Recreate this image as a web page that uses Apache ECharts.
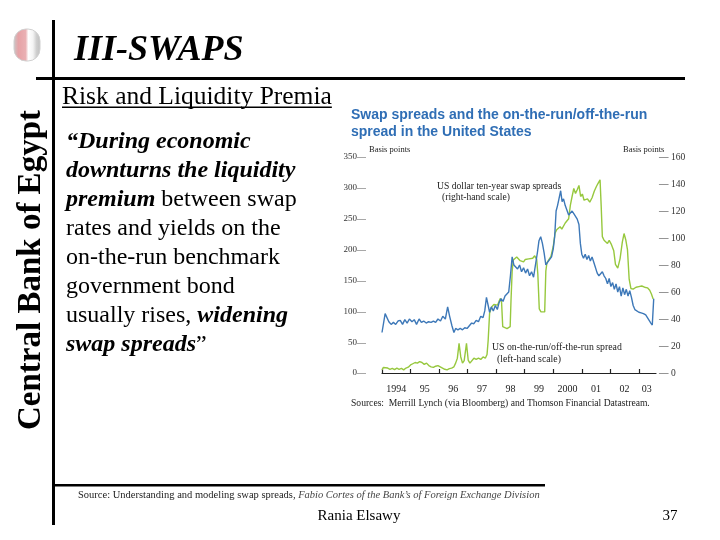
<!DOCTYPE html>
<html>
<head>
<meta charset="utf-8">
<script src="https://cdn.jsdelivr.net/npm/echarts@6/dist/echarts.min.js"></script>
<style>
html,body{margin:0;padding:0;background:#fff;}
#main{width:720px;height:540px;}
</style>
</head>
<body>
<div id="main"></div>
<script>
// ---------- DATA ----------
// US dollar ten-year swap spreads (right-hand scale, basis points)
const swapDates = [1994.00,1994.06,1994.11,1994.17,1994.24,1994.32,1994.40,1994.48,1994.56,1994.64,1994.72,1994.80,1994.88,1994.96,
1995.05,1995.13,1995.21,1995.30,1995.38,1995.46,1995.55,1995.63,1995.72,1995.80,1995.88,1995.96,
1996.05,1996.13,1996.22,1996.30,1996.37,1996.45,1996.52,1996.58,1996.66,1996.74,1996.82,1996.90,1996.98,
1997.06,1997.14,1997.22,1997.30,1997.38,1997.46,1997.54,1997.60,1997.66,1997.72,1997.77,1997.83,1997.90,1997.97,
1998.04,1998.10,1998.17,1998.24,1998.31,1998.38,1998.44,1998.50,1998.56,1998.62,1998.68,1998.75,1998.82,1998.89,1998.96,
1999.03,1999.10,1999.17,1999.24,1999.31,1999.38,1999.45,1999.50,1999.56,1999.62,1999.68,1999.74,1999.80,1999.87,1999.94,
2000.00,2000.05,2000.10,2000.15,2000.20,2000.26,2000.31,2000.36,2000.42,2000.48,2000.54,2000.60,2000.66,2000.72,2000.78,2000.84,2000.90,2000.95,
2001.00,2001.06,2001.12,2001.18,2001.24,2001.30,2001.36,2001.42,2001.48,2001.54,2001.60,2001.66,2001.72,2001.78,2001.84,2001.90,2001.96,
2002.02,2002.08,2002.14,2002.20,2002.26,2002.32,2002.38,2002.44,2002.50,2002.56,2002.62,2002.68,2002.74,2002.80,2002.86,2002.92,
2003.00,2003.08,2003.16,2003.24,2003.30,2003.36,2003.42,2003.47,2003.52];
const swapValues = [30,29,44,43,38,36,37.5,36,38.5,39,36,39.5,37,40,
38,39.5,36,40,37.5,38.5,37,38,37.5,38.5,37.5,40,
38.5,42,40,49,42,35,30,33,32,33,32,33.5,33,
35,37,36.5,39,38,42,41,46,56,50,45,49,46,50,
47,52,55,53,57,58,60,72,86,80,81,77,80,75,78,
74,77,72,75,71,72,90,98,101,96,89,80,82,81,86,
92,101,120,124,129,135,127,129,124,125,117,116,120,118,119,114,110,96,
88,85,88,84,87,83,86,82,81,74,72,71,75,72,70,66,70,
64,67,62,66,60,64,57,63,58,62,57,61,56,50,47,46,
45,44.5,44,43,41,39,37,35.5,55];

// US on-the-run/off-the-run spread (left-hand scale, basis points)
const otrDates = [1994.00,1994.05,1994.12,1994.20,1994.28,1994.36,1994.44,1994.52,1994.60,1994.68,1994.76,1994.84,1994.92,
1995.00,1995.08,1995.16,1995.24,1995.32,1995.40,1995.48,1995.56,1995.64,1995.72,1995.80,1995.88,1995.96,
1996.04,1996.12,1996.20,1996.28,1996.36,1996.44,1996.52,1996.58,1996.64,1996.70,1996.76,1996.82,1996.88,1996.96,
1997.02,1997.08,1997.14,1997.22,1997.30,1997.38,1997.46,1997.54,1997.62,1997.68,1997.72,1997.77,1997.84,1997.92,1997.98,
1998.05,1998.10,1998.15,1998.19,1998.23,1998.30,1998.38,1998.44,1998.49,1998.52,1998.56,1998.60,1998.66,1998.72,1998.78,1998.84,1998.90,1998.96,
1999.02,1999.08,1999.14,1999.20,1999.28,1999.35,1999.42,1999.46,1999.51,1999.57,1999.64,1999.70,1999.74,1999.78,1999.84,1999.92,
2000.00,2000.06,2000.12,2000.18,2000.24,2000.30,2000.36,2000.42,2000.48,2000.54,2000.60,2000.66,2000.72,2000.78,2000.84,2000.90,2000.96,
2001.02,2001.08,2001.14,2001.20,2001.28,2001.36,2001.44,2001.52,2001.58,2001.64,2001.68,2001.72,2001.78,2001.84,2001.90,2001.96,
2002.04,2002.12,2002.18,2002.26,2002.34,2002.42,2002.48,2002.54,2002.60,2002.66,2002.72,2002.80,2002.90,
2003.00,2003.10,2003.20,2003.30,2003.38,2003.44,2003.50];
const otrValues = [5,9,6.5,8,6,7.5,5.5,8,6,7.5,5,8,9.5,
13,15,17,16,18.5,17,14,16,12,10,9,11,12,
10,8,6,5,7,8,10,16,24,48,26,16,20,48,
21,16,18,24,22,24,22,26,24,30,53,97,107,111,113,
110,116,121,114,75,72,72,73,75,118,165,183,186,188,185,182,184,180,
184,187,185,188,186,190,184,160,104,99,98,99,165,179,181,189,
205,226,232,234,237,233,235,243,245,250,272,286,299,291,297,304,286,
290,280,278,282,277,284,295,303,308,313,270,221,215,218,210,215,
208,198,176,170,185,212,226,216,200,152,137,136,139,
140,141,139,138,134,128,120];

// Axis ticks and labels
const xTickYears = [1994,1995,1996,1997,1998,1999,2000,2001,2002,2003];
const xLabelPos = [1994.5,1995.5,1996.5,1997.5,1998.5,1999.5,2000.5,2001.5,2002.5,2003.28];
const xLabels = ['1994','95','96','97','98','99','2000','01','02','03'];
const leftAxisMax = 350, leftAxisStep = 50;
const rightAxisMax = 160, rightAxisStep = 20;

// Slide texts
const slideTitle = 'III-SWAPS';
const sideText = 'Central Bank of Egypt';
const subTitle = 'Risk and Liquidity Premia';
const chartTitle = ['Swap spreads and the on-the-run/off-the-run', 'spread in the United States'];
const swapName = ['US dollar ten-year swap spreads', '(right-hand scale)'];
const otrName = ['US on-the-run/off-the-run spread', '(left-hand scale)'];
const chartSource = 'Sources:  Merrill Lynch (via Bloomberg) and Thomson Financial Datastream.';
const author = 'Rania Elsawy';
const pageNo = '37';

// ---------- CHART ----------
const serif = '"Liberation Serif","Times New Roman",serif';
const sans = '"Liberation Sans",Arial,sans-serif';
const chart = echarts.init(document.getElementById('main'), null, {renderer: 'canvas'});

const subFont = '25.5px "Liberation Serif"';
const ctx = document.createElement('canvas').getContext('2d');
ctx.font = subFont;
const subW = ctx.measureText(subTitle).width;

const zip = (a, b) => a.map((t, i) => [t, b[i]]);

const para = '{bi|\u201CDuring economic}\n{bi|downturns the liquidity}\n{bi|premium}{n| between swap}\n{n|rates and yields on the}\n{n|on-the-run benchmark}\n{n|government bond}\n{n|usually rises, }{bi|widening}\n{bi|swap spreads}{n|\u201D}';

const option = {
  animation: false,
  backgroundColor: '#fff',
  grid: {left: 382, top: 157, width: 274, height: 216, containLabel: false},
  xAxis: [{
    type: 'value', min: 1994, max: 2003.6, offset: 7,
    axisLine: {show: true, lineStyle: {color: '#222', width: 1.2}},
    axisTick: {show: true, inside: true, length: 4, customValues: xTickYears, lineStyle: {color: '#222', width: 1.2}},
    axisLabel: {customValues: xLabelPos, margin: 4, fontFamily: serif, fontSize: 10, color: '#222',
      formatter: v => { const i = xLabelPos.findIndex(p => Math.abs(p - v) < 0.01); return i >= 0 ? xLabels[i] : ''; }},
    splitLine: {show: false}
  }],
  yAxis: [{
    type: 'value', min: 0, max: leftAxisMax, interval: leftAxisStep, position: 'left',
    axisLine: {show: false}, axisTick: {show: false}, splitLine: {show: false},
    axisLabel: {margin: 16, fontFamily: serif, fontSize: 9, color: '#333', formatter: v => v + '\u2014'}
  }, {
    type: 'value', min: 0, max: rightAxisMax, interval: rightAxisStep, position: 'right',
    axisLine: {show: false}, axisTick: {show: false}, splitLine: {show: false},
    axisLabel: {margin: 3, fontFamily: serif, fontSize: 9.5, color: '#333', formatter: v => '\u2014 ' + v}
  }],
  series: [{
    name: 'otr', type: 'line', yAxisIndex: 0, showSymbol: false, symbol: 'none',
    lineStyle: {color: '#97c83e', width: 1.4}, data: zip(otrDates, otrValues)
  }, {
    name: 'swap', type: 'line', yAxisIndex: 1, showSymbol: false, symbol: 'none',
    lineStyle: {color: '#3d78b8', width: 1.4}, data: zip(swapDates, swapValues)
  }],
  graphic: [
    // logo
    {type: 'rect', shape: {x: 14, y: 29, width: 26, height: 32, r: 12},
     style: {fill: {type: 'linear', x: 0, y: 0, x2: 1, y2: 0, colorStops: [
       {offset: 0, color: '#c9c9c9'}, {offset: 0.18, color: '#e6a2a6'}, {offset: 0.45, color: '#eab0b3'},
       {offset: 0.55, color: '#ffffff'}, {offset: 0.72, color: '#f4f4f4'}, {offset: 0.85, color: '#cfcfcf'}, {offset: 1, color: '#bdbdbd'}]},
       stroke: '#d0d0d0', lineWidth: 1}},
    // slide frame lines
    {type: 'rect', shape: {x: 52, y: 20, width: 3, height: 505}, style: {fill: '#000'}},
    {type: 'rect', shape: {x: 36, y: 77, width: 649, height: 3}, style: {fill: '#000'}},
    {type: 'rect', shape: {x: 53, y: 484, width: 492, height: 2.5}, style: {fill: '#000'}},
    // title
    {type: 'text', x: 74, y: 51, style: {text: slideTitle, font: 'italic bold 36px ' + serif, fill: '#000', textAlign: 'left', textVerticalAlign: 'middle'}},
    // vertical side text
    {type: 'text', x: 31, y: 270, rotation: Math.PI / 2,
     style: {text: sideText, font: 'bold 33px ' + serif, fill: '#000', textAlign: 'center', textVerticalAlign: 'middle'}},
    // subtitle with underline
    {type: 'text', x: 62, y: 97, style: {text: subTitle, font: '25.5px ' + serif, fill: '#000', textAlign: 'left', textVerticalAlign: 'middle'}},
    {type: 'rect', shape: {x: 62, y: 106.5, width: subW, height: 1.5}, style: {fill: '#000'}},
    // paragraph
    {type: 'text', x: 66, y: 127.6, style: {text: para, textAlign: 'left', textVerticalAlign: 'top',
      rich: {
        bi: {fontFamily: serif, fontSize: 24, fontWeight: 'bold', fontStyle: 'italic', lineHeight: 28.9, fill: '#000', color: '#000'},
        n: {fontFamily: serif, fontSize: 24, lineHeight: 28.9, fill: '#000', color: '#000'}
      }}},
    // chart title
    {type: 'text', x: 351, y: 115, style: {text: chartTitle[0], font: 'bold 14px ' + sans, fill: '#2f6eb5', textAlign: 'left', textVerticalAlign: 'middle'}},
    {type: 'text', x: 351, y: 132, style: {text: chartTitle[1], font: 'bold 14px ' + sans, fill: '#2f6eb5', textAlign: 'left', textVerticalAlign: 'middle'}},
    // basis points
    {type: 'text', x: 369, y: 150, style: {text: 'Basis points', font: '8.5px ' + serif, fill: '#222', textAlign: 'left', textVerticalAlign: 'middle'}},
    {type: 'text', x: 623, y: 150, style: {text: 'Basis points', font: '8.5px ' + serif, fill: '#222', textAlign: 'left', textVerticalAlign: 'middle'}},
    // annotations
    {type: 'text', x: 437, y: 186, style: {text: swapName[0], font: '9.6px ' + serif, fill: '#222', textAlign: 'left', textVerticalAlign: 'middle'}},
    {type: 'text', x: 442, y: 197, style: {text: swapName[1], font: '9.6px ' + serif, fill: '#222', textAlign: 'left', textVerticalAlign: 'middle'}},
    {type: 'text', x: 492, y: 347, style: {text: otrName[0], font: '9.8px ' + serif, fill: '#222', textAlign: 'left', textVerticalAlign: 'middle'}},
    {type: 'text', x: 497, y: 359, style: {text: otrName[1], font: '9.8px ' + serif, fill: '#222', textAlign: 'left', textVerticalAlign: 'middle'}},
    // chart source
    {type: 'text', x: 351, y: 403, style: {text: chartSource, font: '9.6px ' + serif, fill: '#222', textAlign: 'left', textVerticalAlign: 'middle'}},
    // footnote
    {type: 'text', x: 78, y: 495, style: {text: '{n|Source: Understanding and modeling swap spreads, }{i|Fabio Cortes of the Bank\u2019s of Foreign Exchange Division}',
      textAlign: 'left', textVerticalAlign: 'middle',
      rich: {n: {fontFamily: serif, fontSize: 10.5, fill: '#222', color: '#222'},
             i: {fontFamily: serif, fontSize: 10.5, fontStyle: 'italic', fill: '#444', color: '#444'}}}},
    {type: 'text', x: 359, y: 516, style: {text: author, font: '15px ' + serif, fill: '#000', textAlign: 'center', textVerticalAlign: 'middle'}},
    {type: 'text', x: 670, y: 516, style: {text: pageNo, font: '15px ' + serif, fill: '#000', textAlign: 'center', textVerticalAlign: 'middle'}}
  ]
};
chart.setOption(option);
</script>
</body>
</html>
